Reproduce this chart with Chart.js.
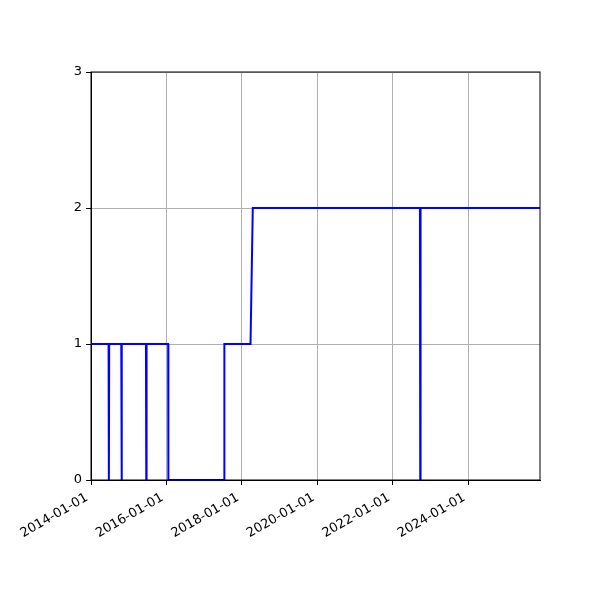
<!DOCTYPE html>
<html>
<head>
<meta charset="utf-8">
<script src="https://cdn.jsdelivr.net/npm/chart.js@4/dist/chart.umd.min.js"></script>
<style>
  body { margin: 0; background: #fff; }
  canvas { display: block; }
</style>
</head>
<body>
<canvas id="chart" width="600" height="600"></canvas>
<script>
// polyline vertices (date, value)
const lineDates = [
  '2014-01-01',
  '2014-06-20', '2014-06-23', '2014-06-26',
  '2014-10-21', '2014-10-24', '2014-10-27',
  '2015-06-17', '2015-06-20', '2015-06-23',
  '2016-01-18', '2016-01-20',
  '2017-07-13', '2017-07-15',
  '2018-03-25', '2018-04-16',
  '2022-09-20', '2022-09-23', '2022-09-26',
  '2025-11-25'
];
const lineValues = [
  1,
  1, 0, 1,
  1, 0, 1,
  1, 0, 1,
  1, 0,
  0, 1,
  1, 2,
  2, 0, 2,
  2
];
const xTickLabels = ['2014-01-01', '2016-01-01', '2018-01-01', '2020-01-01', '2022-01-01', '2024-01-01'];
const yTickValues = [0, 1, 2, 3];
const xMin = '2014-01-01';
const xMax = '2025-11-25';

function toMs(d) {
  return Date.UTC(+d.slice(0, 4), +d.slice(5, 7) - 1, +d.slice(8, 10));
}
function fmt(ms) {
  return new Date(ms).toISOString().slice(0, 10);
}

const points = lineDates.map((d, i) => ({ x: toMs(d), y: lineValues[i] }));

// matplotlib-like frame on all four sides
const frame = {
  id: 'frame',
  afterDraw(chart) {
    const a = chart.chartArea, ctx = chart.ctx;
    ctx.save();
    ctx.strokeStyle = '#000';
    ctx.lineWidth = 1;
    ctx.strokeRect(a.left, a.top, a.right - a.left, a.bottom - a.top);
    ctx.restore();
  }
};

const font = { family: 'DejaVu Sans', size: 13 };

new Chart(document.getElementById('chart'), {
  type: 'line',
  data: {
    datasets: [{
      data: points,
      borderColor: '#0000ff',
      borderWidth: 2,
      borderJoinStyle: 'miter',
      pointRadius: 0,
      tension: 0,
      fill: false,
      clip: 6
    }]
  },
  options: {
    responsive: false,
    animation: false,
    layout: { padding: { top: 72, right: 60, left: 0, bottom: 0 } },
    plugins: { legend: { display: false }, tooltip: { enabled: false } },
    scales: {
      x: {
        type: 'linear',
        min: toMs(xMin),
        max: toMs(xMax),
        afterBuildTicks(scale) {
          scale.ticks = xTickLabels.map(l => ({ value: toMs(l) }));
        },
        afterFit(scale) { scale.height = 120; },
        ticks: {
          color: '#000',
          font: font,
          minRotation: 30,
          maxRotation: 30,
          autoSkip: false,
          padding: 5,
          labelOffset: -4,
          callback: v => fmt(v)
        },
        grid: { color: '#b0b0b0', tickColor: '#000', tickLength: 5 },
        border: { color: '#000' }
      },
      y: {
        min: 0,
        max: 3,
        afterBuildTicks(scale) {
          scale.ticks = yTickValues.map(v => ({ value: v }));
        },
        afterFit(scale) { scale.width = 91; },
        ticks: { color: '#000', font: font, padding: 4 },
        grid: { color: '#b0b0b0', tickColor: '#000', tickLength: 5 },
        border: { color: '#000' }
      }
    }
  },
  plugins: [frame]
});
</script>
</body>
</html>
